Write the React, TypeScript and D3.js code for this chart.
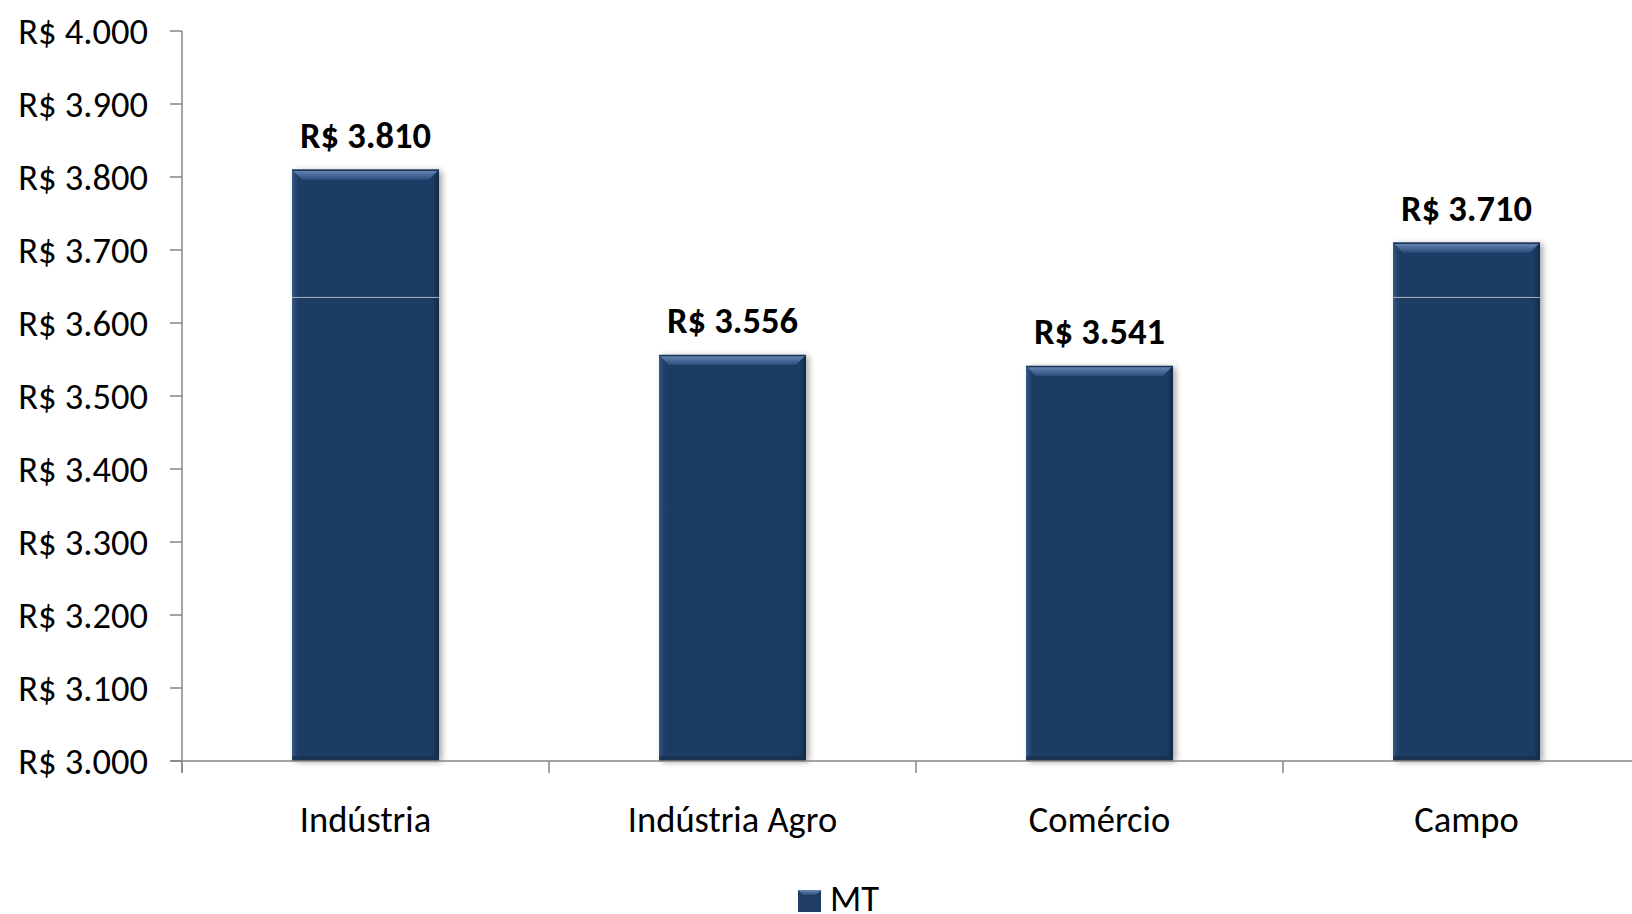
import React from "react";
import * as d3 from "d3";

const categories = ["Indústria", "Indústria Agro", "Comércio", "Campo"];
const values = [3810, 3556, 3541, 3710];
const yTicks = [3000, 3100, 3200, 3300, 3400, 3500, 3600, 3700, 3800, 3900, 4000];
const seriesName = "MT";

const W = 1632;
const H = 914;
const FONT = "Carlito, Calibri, 'Open Sans', sans-serif";
const FS = 36.5;
const fmt = (v: number) => "R$ " + d3.format(",")(v).replace(/,/g, ".");

export default function App() {
  const x0 = 182;
  const step = 367;
  const x = d3
    .scaleBand<string>()
    .domain(categories)
    .range([x0, x0 + step * categories.length])
    .paddingInner(0.6)
    .paddingOuter(0.3);
  const y = d3.scaleLinear().domain([3000, 4000]).range([761, 31]);
  const bw = x.bandwidth();
  const base = y(3000);
  const seam = y(3635);
  const bev = 10;

  return (
    <svg
      width={W}
      height={H}
      style={{ position: "absolute", left: 0, top: 0, background: "#fff" }}
      fontFamily={FONT}
    >
      <defs>
        <linearGradient id="topBev" x1="0" y1="0" x2="0" y2="1">
          <stop offset="0" stopColor="#6a8cbb" />
          <stop offset="1" stopColor="#2c4b78" />
        </linearGradient>
        <linearGradient id="rightEdge" x1="0" y1="0" x2="1" y2="0">
          <stop offset="0" stopColor="#1e3c64" stopOpacity="0" />
          <stop offset="1" stopColor="#0f2442" stopOpacity="1" />
        </linearGradient>
        <linearGradient id="leftEdge" x1="0" y1="0" x2="1" y2="0">
          <stop offset="0" stopColor="#3a5a88" stopOpacity="1" />
          <stop offset="1" stopColor="#1e3c64" stopOpacity="0" />
        </linearGradient>
        <filter id="shadow" x="-10%" y="-10%" width="130%" height="120%">
          <feGaussianBlur in="SourceAlpha" stdDeviation="3" />
          <feOffset dx="3" dy="1" result="b" />
          <feComponentTransfer>
            <feFuncA type="linear" slope="0.35" />
          </feComponentTransfer>
          <feMerge>
            <feMergeNode />
            <feMergeNode in="SourceGraphic" />
          </feMerge>
        </filter>
      </defs>

      {/* y axis */}
      <line x1={x0} x2={x0} y1={y(4000)} y2={base + 12} stroke="#868686" strokeWidth={1.5} />
      {yTicks.map((t) => (
        <g key={t}>
          <line x1={x0 - 12} x2={x0} y1={y(t)} y2={y(t)} stroke="#868686" strokeWidth={1.5} />
          <text
            x={148}
            y={y(t)}
            textAnchor="end"
            dominantBaseline="central"
            fontSize={FS}
            fill="#000"
          >
            {fmt(t)}
          </text>
        </g>
      ))}

      {/* bars */}
      {categories.map((c, i) => {
        const bx = x(c)!;
        const top = y(values[i]);
        const h = base - top;
        return (
          <g key={c}>
            <rect x={bx} y={top} width={bw} height={h} fill="#1e3c64" filter="url(#shadow)" />
            <rect x={bx} y={top} width={8} height={h} fill="url(#leftEdge)" />
            <rect x={bx + bw - 8} y={top} width={8} height={h} fill="url(#rightEdge)" />
            <rect x={bx} y={base - 5} width={bw} height={5} fill="#18314f" opacity={0.8} />
            <path
              d={`M${bx},${top} L${bx + bw},${top} L${bx + bw - bev},${top + bev} L${bx + bev},${top + bev} Z`}
              fill="url(#topBev)"
            />
            <line x1={bx} x2={bx + bw} y1={top + 0.5} y2={top + 0.5} stroke="#1a3358" strokeWidth={1.5} />
            {top < seam && (
              <line x1={bx} x2={bx + bw} y1={seam} y2={seam} stroke="#c8d2e0" strokeWidth={1} opacity={0.8} />
            )}
            <text
              x={bx + bw / 2}
              y={top - 22}
              textAnchor="middle"
              fontSize={FS}
              fontWeight="bold"
              fill="#000"
            >
              {fmt(values[i])}
            </text>
          </g>
        );
      })}

      {/* x axis */}
      <line x1={x0 - 12} x2={W + 30} y1={base} y2={base} stroke="#868686" strokeWidth={1.5} />
      {d3.range(categories.length + 1).map((k) => (
        <line
          key={k}
          x1={x0 + k * x.step()}
          x2={x0 + k * x.step()}
          y1={base}
          y2={base + 12}
          stroke="#868686"
          strokeWidth={1.5}
        />
      ))}
      {categories.map((c) => (
        <text key={c} x={x(c)! + bw / 2} y={832} textAnchor="middle" fontSize={FS} fill="#000">
          {c}
        </text>
      ))}

      {/* legend */}
      <g>
        <rect x={798} y={890} width={23} height={22} fill="#1e3c64" />
        <path d="M798,890 L821,890 L816,895 L803,895 Z" fill="url(#topBev)" />
        <text x={830} y={911} fontSize={FS} fill="#000">
          {seriesName}
        </text>
      </g>
    </svg>
  );
}
